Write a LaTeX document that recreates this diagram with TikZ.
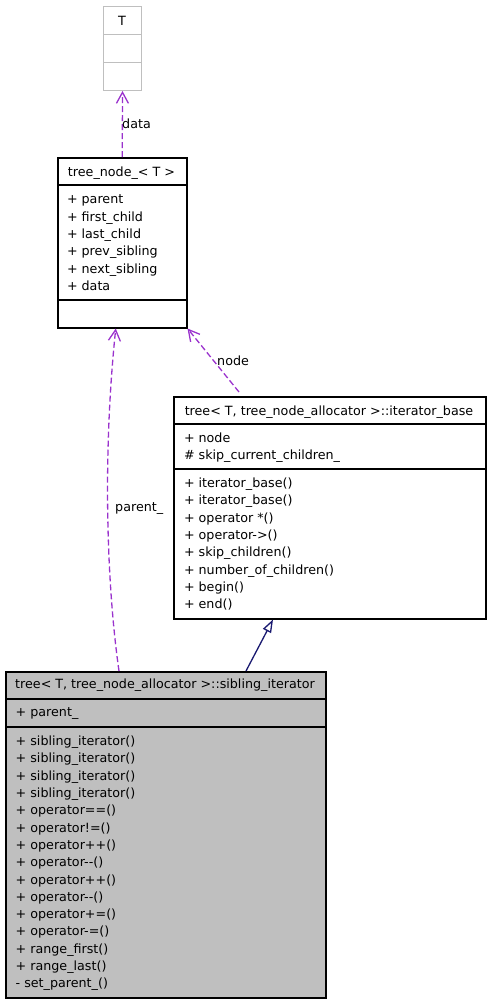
\documentclass[tikz,border=0pt]{standalone}
\usepackage{fontspec}
\setmainfont{DejaVu Sans}
\usetikzlibrary{positioning,calc,arrows.meta}
\definecolor{umlpurple}{HTML}{9A32CD}
\definecolor{umlnavy}{HTML}{191970}
\definecolor{umlgray}{HTML}{BFBFBF}

\begin{document}
\begin{tikzpicture}[x=1pt, y=-1pt,
    every node/.style={font=\fontsize{12.7}{15}\selectfont},
    classbox/.style={draw=black, line width=1.5pt, inner sep=0pt, anchor=north west},
    greybox/.style={draw=umlgray, line width=1pt, inner sep=0pt, anchor=north west},
    title/.style={inner sep=0pt, anchor=base},
    member/.style={inner sep=0pt, anchor=base west},
    usage/.style={draw=umlpurple, line width=1.3pt, dash pattern=on 6pt off 3pt,
        -{Straight Barb[length=11pt, width=12pt]}},
    inherit/.style={draw=umlnavy, line width=1.3pt, -{Triangle[open, length=13pt, width=9pt]}},
    lbl/.style={inner sep=0pt, anchor=base west}
]
\useasboundingbox (0,0) rectangle (490,1002);

% Template parameter
\node[greybox, minimum width=38pt, minimum height=84pt] (tbox) at (103,6) {};
\draw[umlgray, line width=1pt] (103,34) -- (141,34);
\draw[umlgray, line width=1pt] (103,62) -- (141,62);
\node[title] (ttitle) at (122,25.3) {T};

% tree_node_
\node[classbox, minimum width=129pt, minimum height=170pt] (treenode) at (57,157) {};
\draw[line width=1.5pt] (57,185) -- (186,185);
\draw[line width=1.5pt] (57,300) -- (186,300);
\node[title] (tntitle) at (121.5,176.5) {tree\_node\_< T >};
\foreach \m [count=\i] in {parent, first\_child, last\_child, prev\_sibling, next\_sibling, data}
    \node[member] (tnattr\i) at (66.8,{203.8+17.3*(\i-1)}) {+ \m};

% iterator_base
\node[classbox, minimum width=312pt, minimum height=222pt] (iterbase) at (173,396) {};
\draw[line width=1.5pt] (173,424) -- (485,424);
\draw[line width=1.5pt] (173,469) -- (485,469);
\node[title] (ibtitle) at (329,415.3) {tree< T, tree\_node\_allocator >::iterator\_base};
\node[member] (ibattr1) at (183.8,442.6) {+ node};
\node[member] (ibattr2) at (183.8,459.9) {\# skip\_current\_children\_};
\foreach \m [count=\i] in {iterator\_base(), iterator\_base(), operator *(), operator->(),
    skip\_children(), number\_of\_children(), begin(), end()}
    \node[member] (ibop\i) at (183.8,{487.6+17.3*(\i-1)}) {+ \m};

% sibling_iterator
\node[classbox, fill=umlgray, minimum width=320pt, minimum height=326pt] (sib) at (5,671) {};
\draw[line width=1.5pt] (5,699) -- (325,699);
\draw[line width=1.5pt] (5,727) -- (325,727);
\node[title] (sbtitle) at (165,688.6) {tree< T, tree\_node\_allocator >::sibling\_iterator};
\node[member] (sbattr1) at (15.5,716.6) {+ parent\_};
\foreach \m [count=\i] in {+ sibling\_iterator(), + sibling\_iterator(), + sibling\_iterator(),
    + sibling\_iterator(), + operator==(), + operator!=(), + operator++(), + operator-{}-(),
    + operator++(), + operator-{}-(), + operator+=(), + operator-=(), + range\_first(),
    + range\_last(), - set\_parent\_()}
    \node[member] (sbop\i) at (15.5,{745.6+17.3*(\i-1)}) {\m};

% Relations
\draw[usage] (treenode.north) -- (tbox.south);
\node[lbl] (datalbl) at (122,128) {data};

\coordinate (nodetail) at (239,392);
\draw[usage] (nodetail) -- (treenode.south east);
\node[lbl] (nodelbl) at (217,365) {node};

\draw[usage] ($(sib.north west)+(114,0)$) .. controls (106,580) and (103,450) .. ($(treenode.south)+(-6.5,0)$);
\node[lbl] (parentlbl) at (115,511) {parent\_};

\draw[inherit] ($(sib.north west)+(241,0)$) -- ($(iterbase.south west)+(100,0)$);

\end{tikzpicture}
\end{document}
